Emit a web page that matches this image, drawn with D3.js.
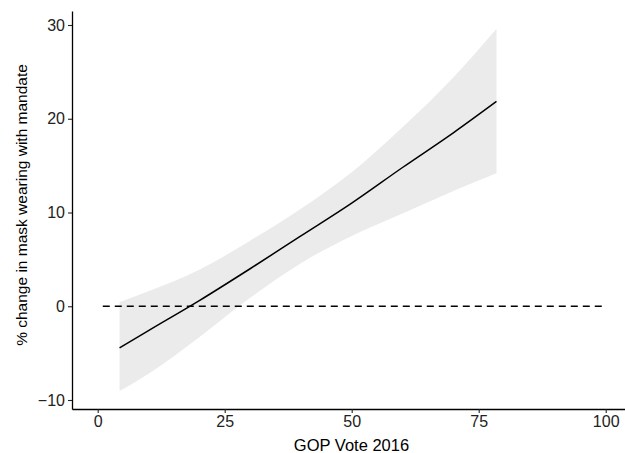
<!DOCTYPE html>
<html>
<head>
<meta charset="utf-8">
<script src="https://cdn.jsdelivr.net/npm/d3@7/dist/d3.min.js"></script>
<style>
  html, body { margin: 0; padding: 0; background: #fff; }
  svg { display: block; }
  text { font-family: "Liberation Sans", Arial, Helvetica, sans-serif; }
</style>
</head>
<body>
<svg id="chart" width="625" height="453"></svg>
<script>
// ---- data ----
const gopVote  = [4.3, 10, 20, 30, 40, 50, 60, 70, 78.5];
const estimate = [-4.45, -2.6, 0.6, 4.0, 7.5, 11.0, 14.8, 18.5, 21.85];
const upperCI  = [0.45, 1.6, 3.9, 7.0, 10.4, 14.3, 19.1, 24.4, 29.6];
const lowerCI  = [-9.05, -7.2, -3.3, 0.9, 4.6, 7.5, 9.9, 12.3, 14.2];
const refLine  = [{x: 1, y: 0}, {x: 100, y: 0}];
const xTicks = [0, 25, 50, 75, 100];
const yTicks = [-10, 0, 10, 20, 30];
const xTitle = "GOP Vote 2016";
const yTitle = "% change in mask wearing with mandate";

const rows = gopVote.map((g, i) => ({x: g, est: estimate[i], lo: lowerCI[i], hi: upperCI[i]}));

const svg = d3.select("#chart");

// scales
const x0 = d3.scaleLinear().domain([0, 100]).range([97.7, 605.7]);
const x = d3.scaleLinear().domain([x0.invert(72), x0.invert(631)]).range([72, 631]);
const y0 = d3.scaleLinear().domain([-10, 30]).range([400, 25]);
const y = d3.scaleLinear().domain([y0.invert(409), y0.invert(11)]).range([409, 11]);

// ribbon
svg.append("path")
  .datum(rows)
  .attr("fill", "#ebebeb")
  .attr("d", d3.area().x(d => x(d.x)).y0(d => y(d.lo)).y1(d => y(d.hi)).curve(d3.curveMonotoneX));

// reference line
svg.append("path")
  .datum(refLine)
  .attr("fill", "none")
  .attr("stroke", "#000")
  .attr("stroke-width", 1.4)
  .attr("stroke-dasharray", "7,5")
  .attr("d", d3.line().x(d => x(d.x)).y(d => y(d.y)));

// estimate line
svg.append("path")
  .datum(rows)
  .attr("fill", "none")
  .attr("stroke", "#000")
  .attr("stroke-width", 1.5)
  .attr("d", d3.line().x(d => x(d.x)).y(d => y(d.est)).curve(d3.curveMonotoneX));

// axes
const gx = svg.append("g").attr("transform", "translate(0,409)")
  .call(d3.axisBottom(x).tickValues(xTicks).tickSize(4).tickSizeOuter(0).tickPadding(3));
const gy = svg.append("g").attr("transform", "translate(72,0)")
  .call(d3.axisLeft(y).tickValues(yTicks).tickSize(4).tickSizeOuter(0).tickPadding(3)
        .tickFormat(d => d < 0 ? "\u2212" + Math.abs(d) : d));

[gx, gy].forEach(g => {
  g.select(".domain").attr("stroke", "#000").attr("stroke-width", 1.3);
  g.selectAll(".tick line").attr("stroke", "#222").attr("stroke-width", 1.1);
  g.selectAll(".tick text").attr("fill", "#222").style("font-size", "16px");
});

// titles
svg.append("text")
  .attr("x", 351.5).attr("y", 450.5)
  .attr("text-anchor", "middle")
  .attr("fill", "#000")
  .style("font-size", "16.5px")
  .text(xTitle);

svg.append("text")
  .attr("transform", "translate(27,205) rotate(-90)")
  .attr("text-anchor", "middle")
  .attr("fill", "#000")
  .style("font-size", "15.5px")
  .text(yTitle);
</script>
</body>
</html>
